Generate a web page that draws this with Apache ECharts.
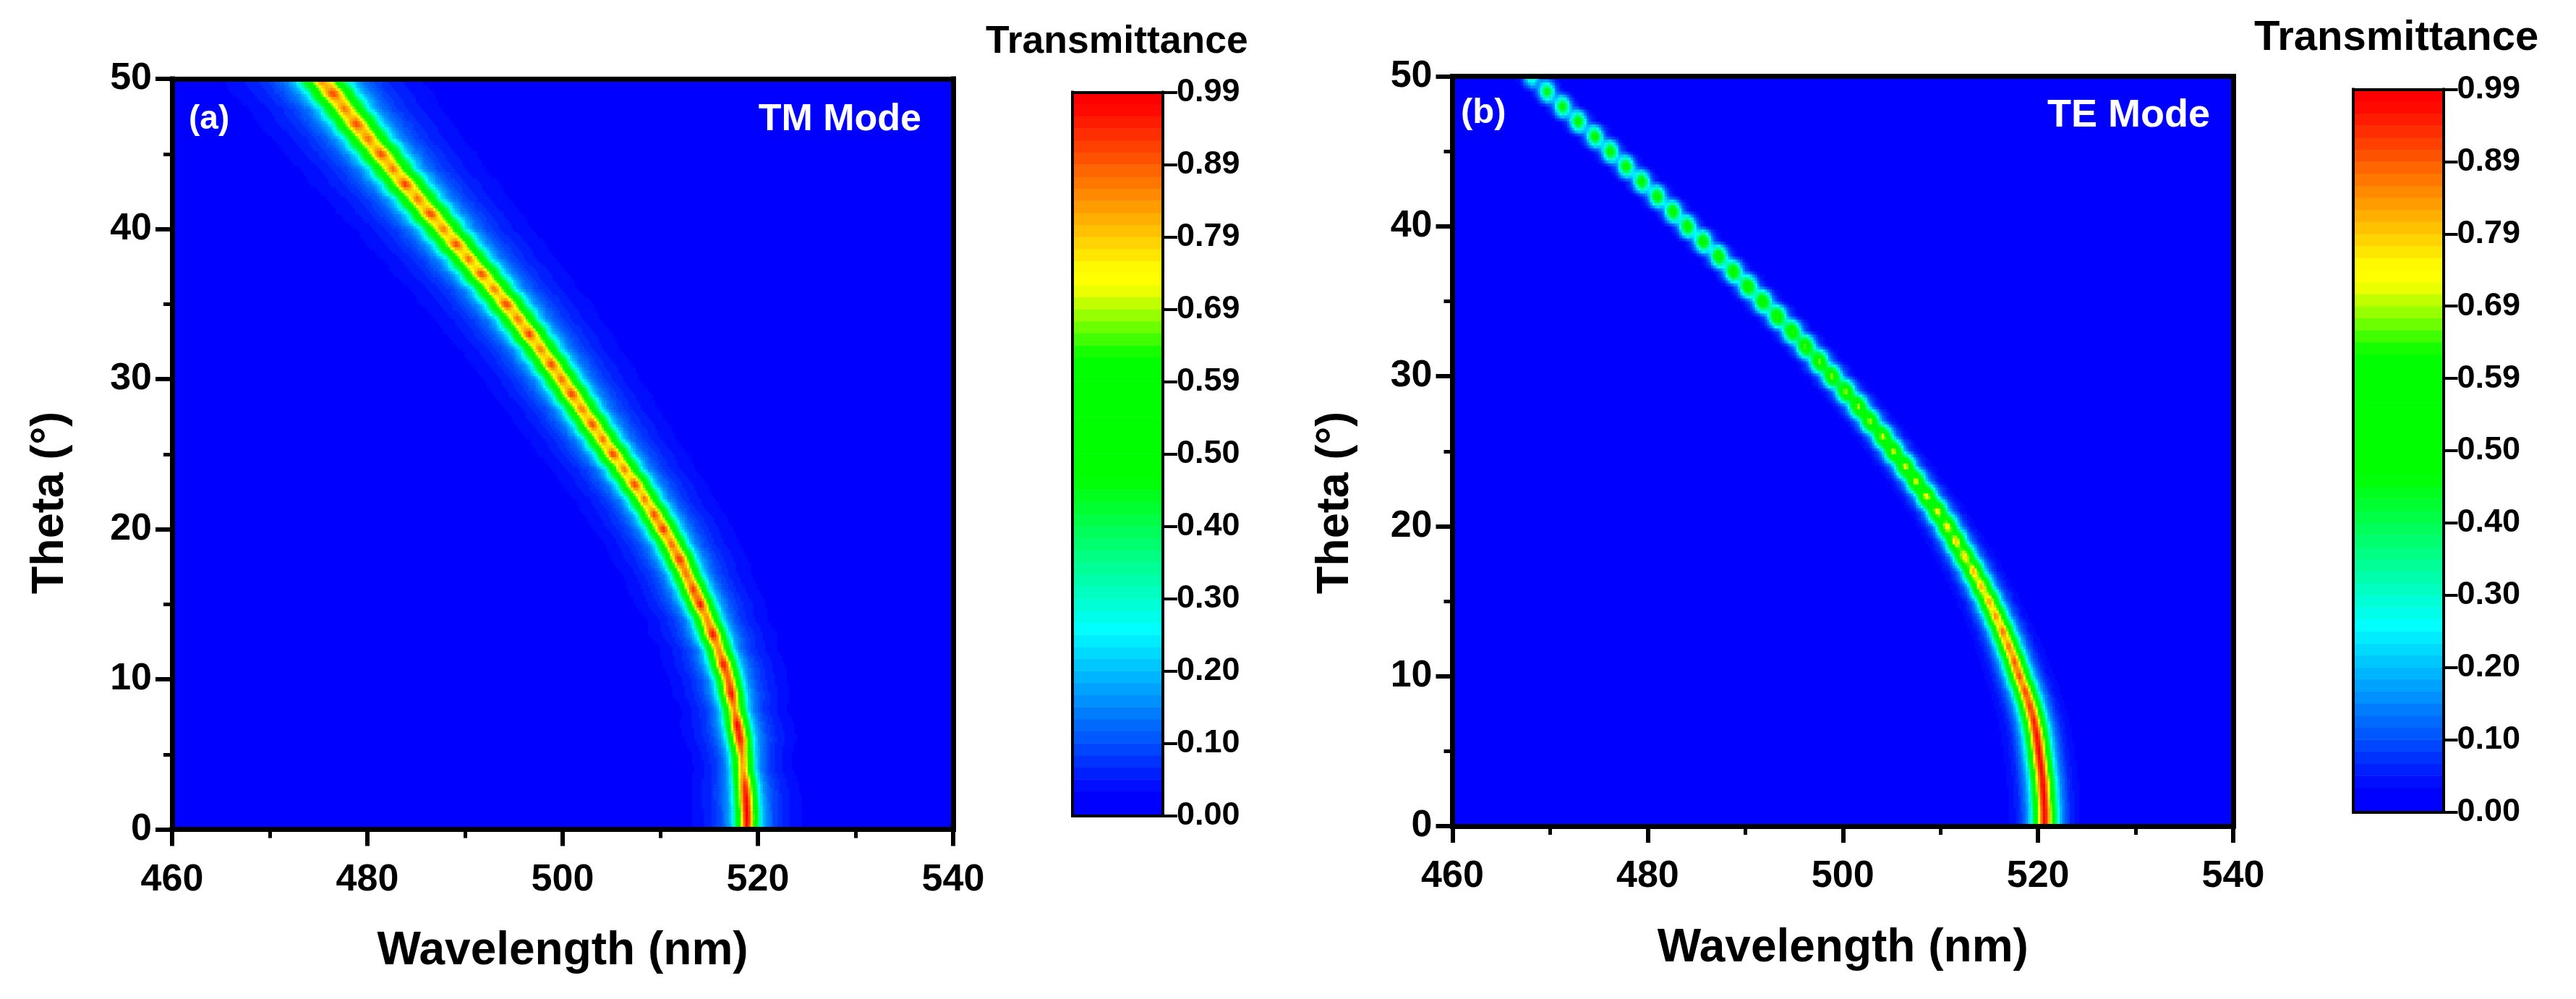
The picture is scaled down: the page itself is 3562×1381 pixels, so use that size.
<!DOCTYPE html>
<html><head><meta charset="utf-8">
<style>html,body{margin:0;padding:0;background:#fff}#c{width:3562px;height:1381px}</style>
<script src="https://cdn.jsdelivr.net/npm/echarts@6/dist/echarts.min.js"></script>
</head><body><div id="c"></div>
<script>
// ---- values ----
const thetaRows = Array.from({length:51},(_,k)=>k); // measured angle rows, degrees
const tmCenter = [518.9,518.9,518.8,518.7,518.5,518.4,518.2,517.9,517.6,517.3,517.0,516.5,516.0,515.4,514.8,514.1,513.4,512.7,512.0,511.2,510.3,509.4,508.4,507.4,506.3,505.2,504.1,503.05,502.0,500.95,499.9,498.85,497.75,496.6,495.45,494.25,493.0,491.7,490.4,489.1,487.8,486.5,485.2,483.9,482.6,481.4,480.1,478.9,477.7,476.5,475.3];
const tmPeak = [.97,.99,.99,.95,.84,.86,.98,.99,.85,.98,.92,.99,.87,.99,.88,.98,.95,.9,.97,.91,.96,.94,.89,.95,.89,.95,.9,.94,.89,.95,.9,.94,.89,.95,.9,.95,.89,.94,.9,.94,.89,.95,.9,.95,.89,.94,.9,.94,.89,.94,.9];
const tmWidth = [1,1,1,1,1,1,1.02,1.03,1.05,1.07,1.1,1.12,1.14,1.16,1.18,1.2,1.22,1.24,1.26,1.28,1.3,1.32,1.34,1.36,1.38,1.4,1.42,1.44,1.46,1.48,1.5,1.52,1.54,1.56,1.58,1.6,1.62,1.64,1.66,1.68,1.7,1.72,1.74,1.76,1.78,1.8,1.82,1.84,1.86,1.88,1.9];
const teCenter = [520.7,520.7,520.6,520.5,520.3,520.1,519.9,519.6,519.2,518.7,518.1,517.6,517.0,516.4,515.7,515.0,514.2,513.4,512.5,511.6,510.7,509.7,508.6,507.5,506.4,505.2,504.1,502.8,501.6,500.3,498.9,497.6,496.2,494.8,493.3,491.8,490.3,488.8,487.3,485.7,484.1,482.6,481.0,479.4,477.8,476.2,474.6,472.9,471.3,469.7,468.1];
const tePeak = [.99,.99,.99,.99,.99,.99,.98,.97,.96,.95,.93,.92,.91,.9,.89,.87,.86,.85,.84,.83,.82,.81,.8,.79,.79,.78,.78,.77,.76,.76,.75,.74,.73,.72,.71,.7,.69,.68,.66,.65,.64,.63,.62,.61,.6,.6,.59,.58,.56,.52,.4];
const teWidth = [1,1,1,1,1,1,1,1,1,1,1,.98,.97,.96,.95,.94,.93,.92,.91,.9,.88,.87,.86,.85,.84,.83,.82,.81,.8,.79,.78,.77,.76,.75,.74,.73,.72,.71,.7,.7,.69,.69,.68,.68,.68,.68,.68,.68,.68,.68,.68];
// cross-sections of the peak: distance from ridge (nm) and transmittance relative to the peak
const tmProfileDist = [0,.25,.65,1.05,1.36,1.85,2.7,3.7,5,7,9];
const tmProfileVal  = [1,.92,.7,.46,.27,.17,.1,.065,.04,.02,0];
const teProfileDist = [0,.25,.65,1.05,1.36,1.85,2.7,3.7,5,6];
const teProfileVal  = [1,.92,.7,.46,.27,.15,.06,.032,.012,0];
// colour scale stops
const colorStopVal = [0,.03,.255,.46,.627,.725,.745,.973,.99];
const colorStopRGB = [[0,0,255],[0,0,255],[0,255,255],[0,255,0],[0,255,0],[255,255,0],[255,255,0],[255,0,0],[255,0,0]];
const barMax = 0.99, barLevels = 60;
const barLabels = ['0.00','0.10','0.20','0.30','0.40','0.50','0.59','0.69','0.79','0.89','0.99'];
const wlTicks = [460,480,500,520,540];
const thetaTicks = [0,10,20,30,40,50];

// ---- derived tables ----
const FONT = '"Liberation Sans", Arial, sans-serif';
function colorAt(v){
  let k=0; while(k<colorStopVal.length-2 && v>colorStopVal[k+1]) k++;
  const t=Math.max(0,Math.min(1,(v-colorStopVal[k])/(colorStopVal[k+1]-colorStopVal[k])));
  const a=colorStopRGB[k],b=colorStopRGB[k+1];
  return 'rgb('+[0,1,2].map(n=>Math.round(a[n]+(b[n]-a[n])*t)).join(',')+')';
}
const step = barMax/barLevels;
const pieces=[], barCells=[];
for(let i=0;i<barLevels;i++){
  const lo=i*step, hi=(i+1)*step;
  pieces.push({min:lo,max:i===barLevels-1?2:hi,color:colorAt(lo+step/2)});
  barCells.push([0,i,lo+step/2]);
}
function lookup(dist,val,d){
  d=Math.abs(d);
  const n=dist.length-1;
  if(d>=dist[n]) return 0;
  let k=0; while(d>dist[k+1]) k++;
  return val[k]+(val[k+1]-val[k])*(d-dist[k])/(dist[k+1]-dist[k]);
}
const dW=0.25, dT=0.2, nW=Math.round(80/dW), nT=Math.round(50/dT);
const wlCats=Array.from({length:nW},(_,i)=>460+dW*(i+.5));
const thCats=Array.from({length:nT},(_,j)=>dT*(j+.5));
function cells(center,peak,width,pd,pv){
  const out=[];
  for(let j=0;j<nT;j++){
    const th=thCats[j], r=Math.min(49,Math.floor(th)), t=th-thetaRows[r];
    for(let i=0;i<nW;i++){
      const w=wlCats[i];
      const v=(1-t)*peak[r]*lookup(pd,pv,(w-center[r])/width[r])+t*peak[r+1]*lookup(pd,pv,(w-center[r+1])/width[r+1]);
      if(v>=step) out.push([i,j,v]);
    }
  }
  return out;
}

// ---- option ----
const grid=[],xAxis=[],yAxis=[],series=[];
const BL='#000';
function rect(l,r,t,b,extra){return Object.assign({left:l,top:t,width:r-l,height:b-t},extra||{});}
function hidden(data){return {type:'category',data:data,show:false,boundaryGap:true};}
function panel(p){
  // cells
  grid.push(rect(p.l,p.r,p.t,p.b,{show:true,backgroundColor:'#0000ff',borderWidth:0}));
  let g=grid.length-1;
  xAxis.push(Object.assign(hidden(wlCats),{gridIndex:g}));
  yAxis.push(Object.assign(hidden(thCats),{gridIndex:g}));
  series.push({type:'heatmap',xAxisIndex:xAxis.length-1,yAxisIndex:yAxis.length-1,data:p.cells,progressive:0,animation:false,silent:true,z:2,itemStyle:{borderWidth:0}});
  // visible axes
  grid.push(rect(p.l,p.r,p.t,p.b));
  g=grid.length-1;
  const line={show:true,onZero:false,lineStyle:{color:BL,width:7,cap:'square'}};
  const tick={show:true,length:23,lineStyle:{color:BL,width:6}};
  const minor={show:true,splitNumber:2,length:12,lineStyle:{color:BL,width:5}};
  const lab={color:BL,fontFamily:FONT,fontWeight:'bold',fontSize:52};
  xAxis.push({type:'value',gridIndex:g,min:460,max:540,interval:20,z:6,position:'bottom',axisLine:line,axisTick:tick,minorTick:minor,splitLine:{show:false},
    axisLabel:Object.assign({margin:44,showMinLabel:true,showMaxLabel:true,formatter:v=>wlTicks.includes(v)?String(v):''},lab),
    name:'Wavelength (nm)',nameLocation:'middle',nameGap:137,nameTextStyle:{color:BL,fontFamily:FONT,fontWeight:'bold',fontSize:64}});
  yAxis.push({type:'value',gridIndex:g,min:0,max:50,interval:10,z:6,position:'left',axisLine:line,axisTick:tick,minorTick:minor,splitLine:{show:false},
    axisLabel:Object.assign({margin:28,padding:[3,0,0,0],formatter:v=>thetaTicks.includes(v)?String(v):''},lab)});
  xAxis.push({type:'value',gridIndex:g,min:460,max:540,z:6,position:'top',axisLine:line,axisTick:{show:false},axisLabel:{show:false},splitLine:{show:false}});
  yAxis.push({type:'value',gridIndex:g,min:0,max:50,z:6,position:'right',axisLine:line,axisTick:{show:false},axisLabel:{show:false},splitLine:{show:false}});
  // colour bar
  const c=p.bar;
  grid.push(rect(c.l,c.r,c.t,c.b,{show:false}));
  g=grid.length-1;
  xAxis.push(Object.assign(hidden(['bar']),{gridIndex:g}));
  yAxis.push(Object.assign(hidden(barCells.map(d=>d[1])),{gridIndex:g}));
  series.push({type:'heatmap',xAxisIndex:xAxis.length-1,yAxisIndex:yAxis.length-1,data:barCells,progressive:0,animation:false,silent:true,z:2,itemStyle:{borderWidth:0}});
  grid.push(rect(c.l,c.r,c.t,c.b));
  g=grid.length-1;
  const bl={show:true,onZero:false,lineStyle:{color:BL,width:4,cap:'square'}};
  yAxis.push({type:'value',gridIndex:g,min:0,max:barMax,interval:barMax/10,z:6,position:'right',axisLine:bl,splitLine:{show:false},
    axisTick:{show:true,length:20,lineStyle:{color:BL,width:4}},
    axisLabel:{margin:19,padding:[3,0,0,0],color:BL,fontFamily:FONT,fontWeight:'bold',fontSize:45,formatter:v=>barLabels[Math.round(v/(barMax/10))]}});
  yAxis.push({type:'value',gridIndex:g,min:0,max:barMax,z:6,position:'left',axisLine:bl,axisTick:{show:false},axisLabel:{show:false},splitLine:{show:false}});
  xAxis.push({type:'value',gridIndex:g,min:0,max:1,z:6,position:'bottom',axisLine:bl,axisTick:{show:false},axisLabel:{show:false},splitLine:{show:false}});
  xAxis.push({type:'value',gridIndex:g,min:0,max:1,z:6,position:'top',axisLine:bl,axisTick:{show:false},axisLabel:{show:false},splitLine:{show:false}});
}
panel({l:238,r:1318,t:109,b:1146.5,cells:cells(tmCenter,tmPeak,tmWidth,tmProfileDist,tmProfileVal),
  bar:{l:1483,r:1608,t:127.5,b:1127.5}});
panel({l:2008.5,r:3088,t:105.5,b:1142,cells:cells(teCenter,tePeak,teWidth,teProfileDist,teProfileVal),
  bar:{l:3254,r:3378.5,t:123.5,b:1122.5}});

function txt(s,x,y,size,color,align,rot){
  return {type:'text',x:x,y:y,rotation:rot||0,z:50,silent:true,style:{text:s,fill:color,font:'bold '+size+'px '+FONT,textAlign:align||'left',textVerticalAlign:'middle'}};
}
const option={
  animation:false,backgroundColor:'#fff',
  grid,xAxis,yAxis,series,
  visualMap:[{type:'piecewise',show:false,dimension:2,seriesIndex:[0,1,2,3],pieces:pieces}],
  graphic:{elements:[
    txt('(a)',261,165,46,'#fff'),
    txt('TM Mode',1274,166,52,'#fff','right'),
    txt('(b)',2020,156,49,'#fff'),
    txt('TE Mode',3056,160,54,'#fff','right'),
    txt('Transmittance',1363,58,53.5,'#000'),
    txt('Transmittance',3117,53,58,'#000'),
    txt('Theta (°)',70,695,63,'#000','center',Math.PI/2),
    txt('Theta (°)',1847,695,63,'#000','center',Math.PI/2)
  ]}
};
const chart=echarts.init(document.getElementById('c'),null,{renderer:'canvas',width:3562,height:1381});
chart.setOption(option);
</script></body></html>
